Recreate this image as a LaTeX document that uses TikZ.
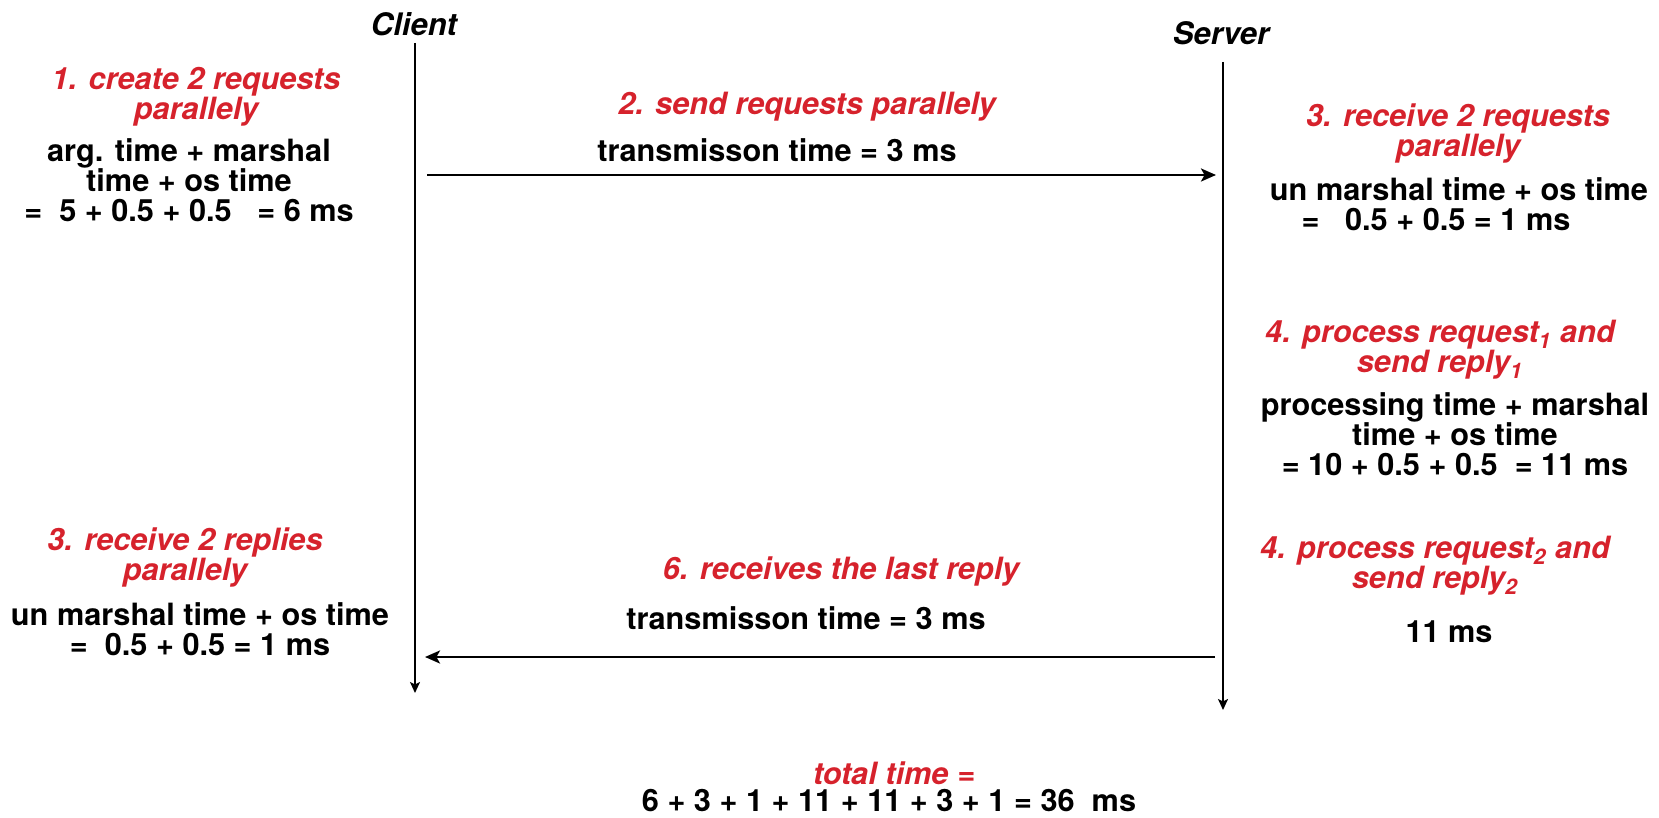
\documentclass[tikz,border=0pt]{standalone}
\usepackage{fontspec}
\setmainfont{TeX Gyre Heros}
\usetikzlibrary{arrows.meta}
\definecolor{lblred}{RGB}{214,34,44}
\tikzset{
  txt/.style={inner sep=0pt, align=center, font=\fontsize{15.35pt}{15pt}\selectfont\bfseries},
  ttl/.style={txt, text=lblred, font=\fontsize{15.35pt}{15pt}\selectfont\bfseries\itshape},
  actor/.style={inner sep=0pt, font=\fontsize{15.5pt}{15pt}\selectfont\bfseries\itshape},
  life/.style={line width=0.9pt, -{Stealth[length=5.5pt,width=5pt,inset=1.2pt]}},
  msg/.style={line width=1.3pt, -{Stealth[length=7.5pt,width=6.5pt,inset=1.8pt]}}
}
\begin{document}
\begin{tikzpicture}[x=0.5pt,y=-0.5pt]
\useasboundingbox (0,0) rectangle (1659,818);
% actors and lifelines
\node[actor] (client) at (414,24) {Client};
\node[actor] (server) at (1221,33) {Server};
\coordinate (ctop) at (415,43);
\coordinate (cbot) at (415,693);
\coordinate (stop) at (1223,62);
\coordinate (sbot) at (1223,710);
\draw[life] (ctop) -- (cbot);
\draw[life] (stop) -- (sbot);
% messages
\coordinate (req-s) at (427,175);
\coordinate (req-e) at (1216,175);
\coordinate (rep-s) at (1215,657);
\coordinate (rep-e) at (425,657);
\draw[msg] (req-s) -- (req-e);
\draw[msg] (rep-s) -- (rep-e);
% client side, top
\node[ttl] (t1) at (196,97) {1. create 2 requests\\parallely};
\node[txt] (b1) at (189,180) {arg. time + marshal\\time + os time\\=\ \ 5 + 0.5 + 0.5\ \ \ = 6 ms};
% request message labels
\node[ttl] (t2) at (807,107) {2. send requests parallely};
\node[txt] (m2) at (777,150) {transmisson time = 3 ms};
% server side
\node[ttl] (t3) at (1458,133) {3. receive 2 requests\\parallely};
\node[txt] (b3) at (1459,204) {un marshal time + os time\\=\ \ \ 0.5 + 0.5 = 1 ms\hspace*{23pt}};
\node[ttl] (t4) at (1440,350) {4. process request\textsubscript{1} and\\send reply\textsubscript{1}};
\node[txt] (b4) at (1455,434) {processing time + marshal\\time + os time\\= 10 + 0.5 + 0.5\ \ = 11 ms};
\node[ttl] (t5) at (1435,566) {4. process request\textsubscript{2} and\\send reply\textsubscript{2}};
\node[txt] (b5) at (1449,632) {11 ms};
% reply message labels
\node[ttl] (t7) at (841,571) {6. receives the last reply};
\node[txt] (m7) at (806,618) {transmisson time = 3 ms};
% client side, bottom
\node[ttl] (t6) at (185,557) {3. receive 2 replies\\parallely};
\node[txt] (b6) at (200,629) {un marshal time + os time\\=\ \ 0.5 + 0.5 = 1 ms};
% total
\node[ttl] (tt) at (894,773) {total time =};
\node[txt] (tsum) at (889,801) {6 + 3 + 1 + 11 + 11 + 3 + 1 = 36\ \ ms};
\end{tikzpicture}
\end{document}
